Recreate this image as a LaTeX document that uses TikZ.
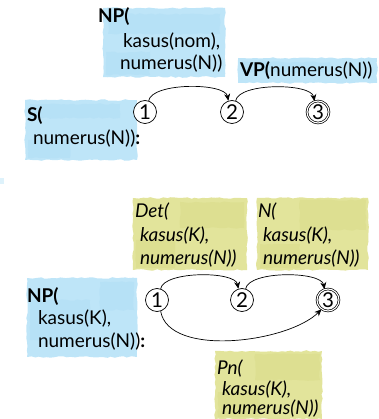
\documentclass[tikz,border=0pt]{standalone}
\usepackage{fontspec}
\setmainfont{Lato}
\usetikzlibrary{arrows.meta,decorations.pathmorphing}

\definecolor{washblue}{RGB}{190,229,248}
\definecolor{washblueDeep}{RGB}{165,216,243}
\definecolor{washyellow}{RGB}{226,228,155}
\definecolor{washyellowDeep}{RGB}{210,213,124}

\tikzset{
  lbl/.style={anchor=base west, inner sep=0pt, outer sep=0pt, font=\fontsize{19}{23}\selectfont},
  ilbl/.style={lbl, font=\fontsize{19}{23}\selectfont\itshape},
  state/.style={circle, draw, fill=white, line width=0.7pt, minimum size=23pt, inner sep=0pt,
                font=\fontsize{20.5}{22}\selectfont},
  accept/.style={state, double, double distance=1.1pt, minimum size=22pt},
  arc/.style={line width=0.7pt, -{Stealth[length=7pt,width=6pt]}},
  rough/.style={decorate, decoration={random steps, segment length=4pt, amplitude=0.8pt}},
  bluewash/.style={rough, fill=washblue},
  bluestreak/.style={rough, fill=washblueDeep, fill opacity=0.3},
  yellowwash/.style={rough, fill=washyellow},
  yellowstreak/.style={rough, fill=washyellowDeep, fill opacity=0.3},
}

\begin{document}
\begin{tikzpicture}[x=1pt, y=-1pt]
\useasboundingbox (0,0) rectangle (378,419);
\pgfmathsetseed{7}

% ---- watercolour washes behind the feature structures ----
\fill[bluewash] (103,8) rectangle (225,77);
\fill[bluestreak] (108,14) rectangle (220,34);
\fill[bluestreak] (106,52) rectangle (150,75);
\fill[bluewash] (238,58) rectangle (377,83);
\fill[bluestreak] (242,62) rectangle (330,72);
\fill[bluewash] (25,100) rectangle (137,160);
\fill[bluestreak] (30,104) rectangle (120,118);
\fill[bluestreak] (28,140) rectangle (70,158);
\fill[washblue, fill opacity=0.5] (0,178) rectangle (4,184);

\fill[yellowwash] (133,198) rectangle (247,270);
\fill[yellowstreak] (180,202) rectangle (244,228);
\fill[yellowstreak] (136,240) rectangle (175,268);
\fill[yellowwash] (257,198) rectangle (368,270);
\fill[yellowstreak] (300,200) rectangle (366,230);
\fill[yellowstreak] (260,244) rectangle (300,268);
\fill[bluewash] (27,278) rectangle (137,357);
\fill[bluestreak] (30,300) rectangle (90,340);
\fill[bluestreak] (100,282) rectangle (134,310);
\fill[yellowwash] (215,351) rectangle (322,419);
\fill[yellowstreak] (255,354) rectangle (320,380);
\fill[yellowstreak] (218,392) rectangle (260,417);

% ---- S rule ----
\node[lbl] (sHead) at (27,122) {\textbf{S(}};
\node[lbl] (sNum) at (33,145) {numerus(N))\textbf{:}};

\node[lbl] (npHead) at (98,23) {\textbf{NP(}};
\node[lbl] (npKasus) at (123,48) {kasus(nom),};
\node[lbl] (npNum) at (120,70) {numerus(N))};
\node[lbl] (vpLbl) at (240,77) {\textbf{VP(}numerus(N))};

\node[state] (s1) at (145,112) {1};
\node[state] (s2) at (232,112) {2};
\node[accept] (s3) at (318,112) {3};

\draw[arc] (s1.72) to[out=80, in=100, looseness=0.6] (s2.108);
\draw[arc] (s2.72) to[out=80, in=100, looseness=0.6] (s3.108);

% ---- NP rule ----
\node[lbl] (np2Head) at (27,302) {\textbf{NP(}};
\node[lbl] (np2Kasus) at (38,324) {kasus(K),};
\node[lbl] (np2Num) at (38,347) {numerus(N))\textbf{:}};

\node[ilbl] (detHead) at (135,217) {Det(};
\node[ilbl] (detKasus) at (140,241) {kasus(K),};
\node[ilbl] (detNum) at (140,264) {numerus(N))};

\node[ilbl] (nHead) at (258,217) {N(};
\node[ilbl] (nKasus) at (263,241) {kasus(K),};
\node[ilbl] (nNum) at (263,264) {numerus(N))};

\node[ilbl] (pnHead) at (217,374) {Pn(};
\node[ilbl] (pnKasus) at (222,395) {kasus(K),};
\node[ilbl] (pnNum) at (222,414) {numerus(N))};

\node[state] (t1) at (157,300) {1};
\node[state] (t2) at (242,300) {2};
\node[accept] (t3) at (328,300) {3};

\draw[arc] (t1.72) to[out=80, in=100, looseness=0.6] (t2.108);
\draw[arc] (t2.72) to[out=80, in=100, looseness=0.6] (t3.108);
\draw[arc] (t1.-72) to[out=-80, in=-135, looseness=0.75] (t3.-125);
\end{tikzpicture}
\end{document}
